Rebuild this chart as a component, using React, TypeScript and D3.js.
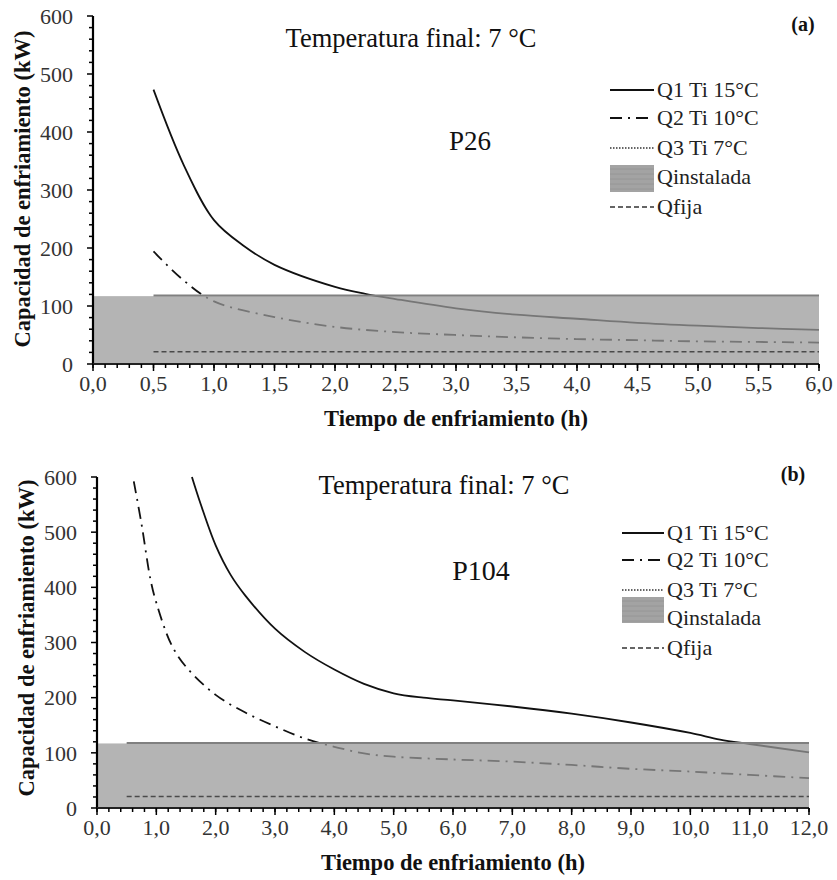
import React from "react";
import * as d3 from "d3";

// ---------- data ----------
const xTicksA = [0, 0.5, 1, 1.5, 2, 2.5, 3, 3.5, 4, 4.5, 5, 5.5, 6];
const xTicksB = [0, 1, 2, 3, 4, 5, 6, 7, 8, 9, 10, 11, 12];
const yTicks = [0, 100, 200, 300, 400, 500, 600];

const timeA1 = [0.5, 0.75, 1.0, 1.25, 1.5, 2.0, 2.25, 2.5, 3.0, 3.5, 4.0, 4.5, 5.0, 5.5, 6.0];
const q1A = [473, 343, 248, 203, 171, 133, 121, 112, 96, 85, 78, 71, 66, 62, 59];
const timeA2 = [0.5, 0.75, 1.0, 1.5, 2.0, 2.5, 3.0, 3.5, 4.0, 4.5, 5.0, 5.5, 6.0];
const q2A = [194, 144, 108, 81, 64, 55, 50, 46, 43, 41, 39, 38, 37];

const timeB1 = [1.6, 1.75, 2.0, 2.25, 2.5, 3.0, 3.5, 4.0, 4.5, 5.0, 5.5, 6.0, 7.0, 8.0, 9.0, 10.0, 10.5, 11.0, 12.0];
const q1B = [600, 550, 476, 423, 385, 325, 283, 251, 225, 208, 200, 195, 184, 171, 155, 136, 124, 116, 101];
const timeB2 = [0.62, 0.75, 0.9, 1.0, 1.25, 1.5, 2.0, 2.5, 3.0, 3.5, 4.0, 4.5, 5.0, 6.0, 7.0, 8.0, 9.0, 10.0, 11.0, 12.0];
const q2B = [592, 515, 415, 372, 297, 256, 205, 173, 148, 126, 111, 99, 93, 88, 84, 78, 71, 66, 60, 54];

const qInstalada = 117;
const qFija = 21;
const q3Level = 118;

const legendLabels = ["Q1 Ti 15°C", "Q2 Ti 10°C", "Q3 Ti 7°C", "Qinstalada", "Qfija"];

const SERIF = "'Liberation Serif', 'Times New Roman', Times, serif";

type PanelProps = {
  xMax: number;
  xTicks: number[];
  minorX: number;
  xRange: [number, number];
  yRange: [number, number];
  t1: number[];
  q1: number[];
  t2: number[];
  q2: number[];
  title: { x: number; y: number };
  tag: { text: string; x: number; y: number };
  plant: { text: string; x: number; y: number; size: number };
  legend: { x0: number; x1: number; rows: number[]; swatch: [number, number] };
  yTitle: { x: number; y: number };
};

function Panel(p: PanelProps) {
  const x = d3.scaleLinear().domain([0, p.xMax]).range(p.xRange);
  const y = d3.scaleLinear().domain([0, 600]).range(p.yRange);
  const line = d3
    .line<[number, number]>()
    .x((d) => x(d[0]))
    .y((d) => y(d[1]))
    .curve(d3.curveCatmullRom.alpha(0.5));
  const pts1 = p.t1.map((t, i) => [t, p.q1[i]] as [number, number]);
  const pts2 = p.t2.map((t, i) => [t, p.q2[i]] as [number, number]);
  const fmt = (v: number) => d3.format(".1f")(v).replace(".", ",");
  const minorXs = d3.range(0, p.xMax + 1e-9, p.minorX);
  const minorYs = d3.range(0, 600 + 1e-9, 20);
  const x0 = x(0);
  const y0 = y(0);
  const { legend: lg } = p;
  const lineStyles = [
    { dash: "none", color: "#111", w: 2 },
    { dash: "12,6,2,6", color: "#111", w: 2 },
    { dash: "1.5,1.5", color: "#333", w: 1.3 },
  ];
  return (
    <g style={{ fontFamily: SERIF }}>
      {/* series */}
      <path d={line(pts1) || ""} fill="none" stroke="#111" strokeWidth={1.8} />
      <path d={line(pts2) || ""} fill="none" stroke="#111" strokeWidth={1.8} strokeDasharray="12,6,2,6" />
      {/* installed capacity band, drawn over the curves */}
      <rect
        x={x(0)}
        y={y(qInstalada)}
        width={x(p.xMax) - x(0)}
        height={y(0) - y(qInstalada)}
        fill="#9a9a9a"
        fillOpacity={0.74}
      />
      {/* Q3 */}
      <line x1={x(0.5)} x2={x(p.xMax)} y1={y(q3Level)} y2={y(q3Level)} stroke="#808080" strokeWidth={2} />
      {/* Qfija */}
      <line
        x1={x(0.5)}
        x2={x(p.xMax)}
        y1={y(qFija)}
        y2={y(qFija)}
        stroke="#4a4a4a"
        strokeWidth={1.5}
        strokeDasharray="5,3"
      />
      {/* axes */}
      <line x1={x0} x2={x0} y1={y(600)} y2={y0} stroke="#000" strokeWidth={2.2} />
      <line x1={x0 - 1} x2={x(p.xMax)} y1={y0} y2={y0} stroke="#222" strokeWidth={2.2} />
      {minorYs.map((v) => (
        <line key={"my" + v} x1={x0 - (v % 100 === 0 ? 6 : 4)} x2={x0} y1={y(v)} y2={y(v)} stroke="#000" strokeWidth={1.5} />
      ))}
      {minorXs.map((v, i) => (
        <line key={"mx" + i} x1={x(v)} x2={x(v)} y1={y0} y2={y0 + 4} stroke="#000" strokeWidth={1.5} />
      ))}
      {p.xTicks.map((v) => (
        <line key={"Mx" + v} x1={x(v)} x2={x(v)} y1={y0} y2={y0 + 7} stroke="#000" strokeWidth={1.5} />
      ))}
      {yTicks.map((v) => (
        <text key={"yl" + v} x={x0 - 20} y={y(v)} dy="0.35em" textAnchor="end" fontSize={22} fill="#333">
          {v}
        </text>
      ))}
      {p.xTicks.map((v) => (
        <text key={"xl" + v} x={x(v)} y={y0 + 27} textAnchor="middle" fontSize={22} fill="#333">
          {fmt(v)}
        </text>
      ))}
      <text
        x={(x(0) + x(p.xMax)) / 2}
        y={y0 + 62}
        textAnchor="middle"
        fontSize={22.5}
        fontWeight="bold"
        fill="#111"
      >
        Tiempo de enfriamiento (h)
      </text>
      <text
        transform={`translate(${p.yTitle.x},${p.yTitle.y}) rotate(-90)`}
        textAnchor="middle"
        fontSize={22.5}
        fontWeight="bold"
        fill="#111"
      >
        Capacidad de enfriamiento (kW)
      </text>
      <text x={p.title.x} y={p.title.y} textAnchor="middle" fontSize={26.5} fill="#111">
        Temperatura final: 7 °C
      </text>
      <text x={p.tag.x} y={p.tag.y} textAnchor="middle" fontSize={20} fontWeight="bold" fill="#111">
        {p.tag.text}
      </text>
      <text x={p.plant.x} y={p.plant.y} textAnchor="middle" fontSize={p.plant.size} fill="#111">
        {p.plant.text}
      </text>
      {/* legend */}
      {[0, 1, 2].map((i) => (
        <line
          key={"lgl" + i}
          x1={lg.x0}
          x2={lg.x1}
          y1={lg.rows[i]}
          y2={lg.rows[i]}
          stroke={lineStyles[i].color}
          strokeWidth={lineStyles[i].w}
          strokeDasharray={lineStyles[i].dash}
        />
      ))}
      <rect x={lg.x0} y={lg.swatch[0]} width={lg.x1 - lg.x0} height={lg.swatch[1] - lg.swatch[0]} fill="#a3a3a3" />
      {d3.range(lg.swatch[0] + 4, lg.swatch[1], 5).map((yy) => (
        <line key={"sw" + yy} x1={lg.x0} x2={lg.x1} y1={yy} y2={yy} stroke="#969696" strokeWidth={1} />
      ))}
      <line x1={lg.x0} x2={lg.x1} y1={lg.rows[4]} y2={lg.rows[4]} stroke="#333" strokeWidth={1.3} strokeDasharray="5,3" />
      {legendLabels.map((s, i) => (
        <text key={"lt" + i} x={lg.x1 + 3} y={lg.rows[i]} dy="0.33em" fontSize={22} fill="#222">
          {s}
        </text>
      ))}
    </g>
  );
}

export default function App() {
  return (
    <div style={{ position: "absolute", left: 0, top: 0 }}>
      <svg width={837} height={880} style={{ display: "block", background: "#fff" }}>
        <Panel
          xMax={6}
          xTicks={xTicksA}
          minorX={0.1}
          xRange={[93, 819]}
          yRange={[364, 16]}
          t1={timeA1}
          q1={q1A}
          t2={timeA2}
          q2={q2A}
          title={{ x: 411, y: 47 }}
          tag={{ text: "(a)", x: 803, y: 31 }}
          plant={{ text: "P26", x: 470, y: 150, size: 27 }}
          legend={{ x0: 610, x1: 654, rows: [90, 118, 148, 177, 207], swatch: [165, 192] }}
          yTitle={{ x: 30, y: 189 }}
        />
        <Panel
          xMax={12}
          xTicks={xTicksB}
          minorX={0.2}
          xRange={[97, 809]}
          yRange={[808, 477]}
          t1={timeB1}
          q1={q1B}
          t2={timeB2}
          q2={q2B}
          title={{ x: 444, y: 494 }}
          tag={{ text: "(b)", x: 793, y: 481 }}
          plant={{ text: "P104", x: 481, y: 580, size: 28 }}
          legend={{ x0: 622, x1: 664, rows: [533, 560, 590, 618, 648], swatch: [597, 623] }}
          yTitle={{ x: 34, y: 638 }}
        />
      </svg>
    </div>
  );
}
